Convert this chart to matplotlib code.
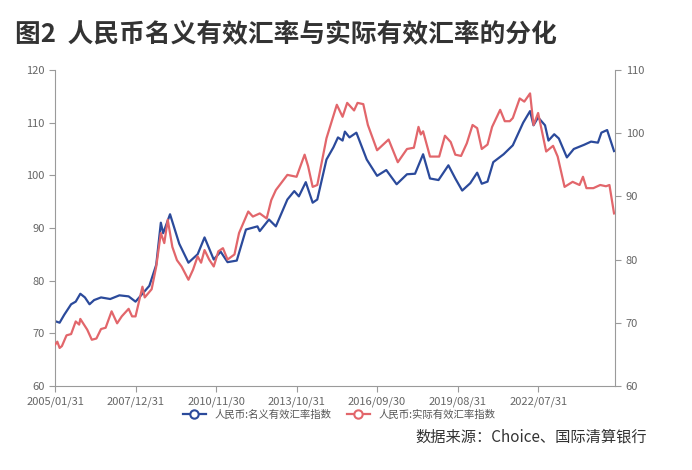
import matplotlib
matplotlib.use("Agg")
import matplotlib.pyplot as plt
from matplotlib.lines import Line2D

plt.rcParams["font.family"] = ["Noto Sans CJK SC", "DejaVu Sans"]

tick_months = [0, 35, 70, 105, 140, 175, 210]
tick_labels = ["2005/01/31", "2007/12/31", "2010/11/30", "2013/10/31",
               "2016/09/30", "2019/08/31", "2022/07/31"]

nom_m = [0, 2, 4, 7, 9, 11, 13, 15, 17, 20, 24, 28, 32, 35, 38, 41, 44, 46, 47, 50,
         54, 58, 62, 65, 69, 72, 75, 79, 83, 88, 89, 93, 96, 101, 104, 106, 109, 112,
         114, 118, 121, 123, 125, 126, 128, 131, 135.5, 140, 144, 148.5, 153, 156.5,
         160, 163, 166.7, 171, 174, 177, 180.5, 183.5, 185.5, 188, 190.5, 195, 199,
         203.5, 206.5, 208, 210, 213, 214.5, 217, 219, 222.5, 225.5, 230, 233, 236,
         237.5, 240, 243]
nom_v = [72.3, 72.0, 73.5, 75.5, 76.0, 77.5, 76.8, 75.5, 76.3, 76.8, 76.5, 77.2, 77.0,
         76.0, 77.5, 79.0, 83.0, 91.0, 89.0, 92.6, 87.0, 83.4, 85.0, 88.2, 84.0, 85.5,
         83.5, 83.8, 89.7, 90.3, 89.4, 91.6, 90.3, 95.4, 97.0, 96.0, 98.7, 94.8, 95.4,
         103.0, 105.3, 107.2, 106.6, 108.3, 107.2, 108.1, 103.0, 99.9, 101.0, 98.3,
         100.2, 100.3, 104.0, 99.4, 99.1, 101.9, 99.4, 97.1, 98.5, 100.5, 98.4, 98.8,
         102.5, 104.0, 105.7, 110.0, 112.2, 109.5, 111.0, 109.5, 106.6, 107.8, 107.0,
         103.4, 105.0, 105.8, 106.4, 106.2, 108.1, 108.6, 104.6]

real_m = [0, 1, 2, 3, 5, 7, 9, 10.5, 11, 14, 16, 18, 20, 22, 24.6, 27, 29, 32, 33.5, 35,
          38, 39, 42, 44, 46, 47.5, 49, 51, 53, 55, 58, 60, 62, 63.5, 65, 67, 69, 71,
          73, 75, 78, 80, 84, 86, 89, 92, 94, 96, 101, 105, 108.5, 110, 112, 114, 118,
          122.5, 125, 127, 130, 131.5, 134, 136, 140, 145, 149, 153, 156, 158, 159,
          160, 163, 167, 169.5, 172, 174, 176.5, 179, 181.5, 183.5, 185.5, 188, 190,
          193.5, 195.5, 197.7, 199, 202, 204, 206.5, 208, 210, 213.5, 216.5, 218.5,
          221.5, 225, 228, 229.5, 231, 234, 237, 239.5, 241, 243]
real_v = [66.5, 67.0, 66.0, 66.3, 68.0, 68.2, 70.2, 69.7, 70.6, 68.9, 67.3, 67.5, 69.0,
          69.2, 71.8, 69.9, 71.0, 72.2, 71.0, 71.0, 75.7, 74.0, 75.3, 78.9, 84.2, 82.6,
          86.3, 82.0, 79.9, 78.9, 76.8, 78.4, 80.5, 79.5, 81.5, 80.0, 78.9, 81.3, 81.8,
          80.0, 80.8, 84.2, 87.6, 86.8, 87.3, 86.5, 89.4, 91.0, 93.4, 93.1, 96.6, 94.8,
          91.5, 91.8, 99.2, 104.5, 102.6, 104.8, 103.6, 104.8, 104.6, 101.3, 97.3, 99.0,
          95.4, 97.5, 97.7, 101.0, 99.8, 100.3, 96.3, 96.3, 99.6, 98.6, 96.6, 96.4,
          98.4, 101.3, 100.8, 97.5, 98.2, 101.0, 103.7, 101.9, 101.9, 102.4, 105.5,
          105.0, 106.3, 101.3, 103.2, 97.1, 98.0, 96.3, 91.5, 92.3, 91.8, 93.1, 91.3,
          91.3, 91.8, 91.6, 91.8, 87.3]

blue = "#2b4a9b"
red = "#e2666b"
grey = "#9a9a9a"

fig = plt.figure(figsize=(6.92, 4.70), dpi=100)
ax = fig.add_axes([0.0795, 0.179, 0.8095, 0.672])
ax2 = ax.twinx()

ax.plot(nom_m, nom_v, color=blue, lw=1.6)
ax2.plot(real_m, real_v, color=red, lw=1.6)

ax.set_xlim(0, 243.5)
ax.set_ylim(60, 120)
ax.set_yticks(range(60, 121, 10))
ax2.set_ylim(60, 110)
ax2.set_yticks(range(60, 111, 10))
ax.set_xticks(tick_months)
ax.set_xticklabels(tick_labels)

for a in (ax, ax2):
    for s in a.spines.values():
        s.set_visible(False)
    a.tick_params(colors="#666666", labelsize=8, length=4, width=0.8)
    a.tick_params(axis="both", color=grey)
ax.spines["left"].set_visible(True)
ax.spines["bottom"].set_visible(True)
ax2.spines["right"].set_visible(True)
for s in (ax.spines["left"], ax.spines["bottom"], ax2.spines["right"]):
    s.set_color(grey)
    s.set_linewidth(0.8)

fig.text(0.022, 0.928, "图2  人民币名义有效汇率与实际有效汇率的分化", fontsize=18.5,
         fontweight="bold", color="#333333", va="center")

handles = [Line2D([0], [0], color=blue, lw=1.6, marker="o", markersize=6,
                  markerfacecolor="white", markeredgewidth=1.5),
           Line2D([0], [0], color=red, lw=1.6, marker="o", markersize=6,
                  markerfacecolor="white", markeredgewidth=1.5)]
fig.legend(handles, ["人民币:名义有效汇率指数", "人民币:实际有效汇率指数"],
           loc="center", bbox_to_anchor=(0.49, 0.118), ncol=2, frameon=False,
           fontsize=7.5, handlelength=2.2, columnspacing=1.5, labelcolor="#555555")

fig.text(0.935, 0.07, "数据来源：Choice、国际清算银行", fontsize=11, color="#333333",
         ha="right", va="center")

fig.savefig("out.png", dpi=100)
